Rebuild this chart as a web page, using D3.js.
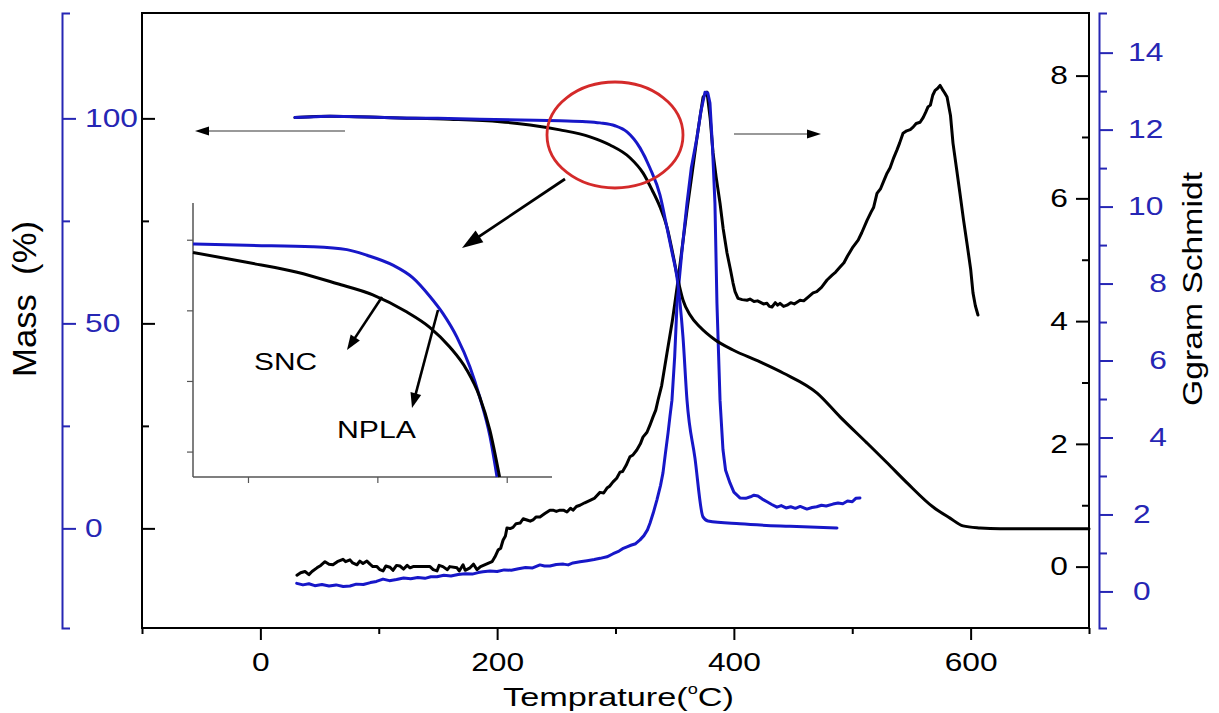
<!DOCTYPE html>
<html>
<head>
<meta charset="utf-8">
<script src="https://cdn.jsdelivr.net/npm/d3@7"></script>
<style>
  html, body { margin: 0; padding: 0; background: #fff; }
  svg { display: block; font-family: "Liberation Sans", Arial, sans-serif; }
</style>
</head>
<body>
<svg id="chart" width="1219" height="713"></svg>
<script>
// ---- TGA mass loss (%) ----
const sncMassT = [29.2, 58.8, 117.9, 160.2, 202.4, 227.8, 253.1, 278.5, 295.4, 312.2, 323.2, 330.8, 337.6, 343.5, 348.6, 352.8, 357.0, 362.9, 371.4, 384.0, 399.3, 422.1, 441.6, 470.3, 489.7, 512.5, 529.4, 546.3, 568.3, 582.6, 593.6, 608.0, 624.9, 700];
const sncMass  = [100.2, 100.5, 100.1, 99.8, 99.2, 98.4, 97.2, 95.5, 93.5, 90.4, 86.7, 82.6, 78.4, 73.5, 66.7, 60.6, 55.7, 52.1, 49.1, 46.0, 43.5, 40.6, 37.9, 33.0, 27.2, 20.8, 16.0, 11.1, 5.2, 2.5, 0.6, 0.1, -0.1, -0.1];

const nplaMassT = [29.2, 45, 58.8, 80, 117.9, 150, 185.5, 220, 253.1, 275, 286.9, 299.6, 309.7, 320.7, 329.1, 337.6, 343.5, 347.7, 352.0, 357.0, 360.4, 367.1, 373.9, 378.1, 405.1, 447.4, 487.1];
const nplaMass  = [100.2, 100.4, 100.5, 100.4, 100.1, 100.0, 99.8, 99.6, 99.4, 99.2, 98.9, 98.2, 96.7, 92.8, 87.9, 81.3, 73.3, 67.4, 61.1, 46.7, 31.3, 17.2, 2.8, 1.8, 1.1, 0.5, 0.1];

// ---- Gram-Schmidt response ----
const gsSncT = [30.9, 34, 37.7, 41, 43.6, 47.8, 51, 54.6, 58, 61.3, 65, 69.8, 72, 75.7, 78, 81.6, 84, 86.7, 90, 92.6, 95, 98.5, 101, 103.6, 106, 109.5, 112, 115, 117.9, 121, 124, 126.4, 129, 132.3, 143.3, 146, 149.2, 151, 154.2, 158, 160, 166.1, 168, 171.2, 173, 177.1, 180, 183, 186, 195.7, 198.2, 200.8, 203, 205, 207, 208.3, 211, 213.4, 216, 219.4, 222, 225.2, 228, 230.3, 233, 236.2, 240, 244.6, 247.2, 250, 253.1, 256, 259, 262, 264.1, 267, 270, 274, 278.5, 282, 286.9, 290, 292.8, 295, 297.9, 301, 303.8, 306, 309, 312.2, 314.8, 318, 321, 323.2, 326.6, 329, 331.7, 334, 335.9, 339, 343.5, 348, 352.0, 356, 360.4, 365, 368.9, 372, 374.0, 377.3, 380, 382.4, 385, 388.3, 391, 394.2, 397, 399.3, 401, 403.5, 407, 411.1, 413.6, 417, 420, 422.1, 425, 428.0, 430, 432.2, 435, 437, 439.0, 442, 444.9, 448, 451, 455.9, 459, 462, 466.9, 470, 474, 478.7, 483, 486, 489.7, 493, 496, 500.7, 505, 508, 512.5, 516, 518, 520.9, 524, 527, 529.4, 532, 535, 537.8, 540, 542.9, 546, 549, 551.4, 554, 557.3, 560, 562, 564.0, 566, 568, 570.0, 572, 574.2, 576, 578, 580.1, 583, 585.1, 588, 591.0, 594, 596.9, 600, 602.0, 604, 606.2];
const gsSnc  = [-0.14, -0.10, -0.08, -0.13, -0.08, -0.02, 0.02, 0.08, 0.04, 0.03, 0.08, 0.12, 0.08, 0.11, 0.06, 0.03, 0.09, 0.05, 0.09, 0.04, 0.00, 0.00, -0.05, -0.07, 0.01, -0.01, -0.06, 0.02, 0.01, -0.04, 0.02, -0.02, 0.00, 0.00, 0.00, -0.05, -0.07, 0.02, 0.00, -0.05, 0.00, -0.02, -0.07, 0.03, -0.06, -0.02, 0.04, -0.05, 0.00, 0.08, 0.16, 0.27, 0.30, 0.43, 0.50, 0.63, 0.62, 0.64, 0.70, 0.71, 0.78, 0.76, 0.74, 0.76, 0.81, 0.81, 0.86, 0.92, 0.92, 0.90, 0.92, 0.92, 0.89, 0.95, 0.92, 0.98, 1.00, 1.04, 1.08, 1.11, 1.21, 1.20, 1.28, 1.31, 1.38, 1.44, 1.54, 1.55, 1.65, 1.79, 1.82, 1.90, 2.00, 2.11, 2.19, 2.30, 2.44, 2.55, 2.71, 2.95, 3.48, 4.00, 4.55, 5.15, 5.81, 6.45, 7.00, 7.40, 7.65, 7.73, 7.30, 6.74, 6.35, 5.92, 5.50, 5.11, 4.85, 4.62, 4.48, 4.37, 4.35, 4.34, 4.36, 4.32, 4.33, 4.31, 4.28, 4.29, 4.24, 4.23, 4.30, 4.26, 4.29, 4.24, 4.26, 4.30, 4.28, 4.34, 4.33, 4.38, 4.46, 4.48, 4.55, 4.67, 4.75, 4.80, 4.88, 4.95, 5.06, 5.21, 5.32, 5.44, 5.64, 5.78, 5.85, 6.08, 6.16, 6.30, 6.41, 6.50, 6.66, 6.79, 6.90, 7.06, 7.10, 7.12, 7.16, 7.22, 7.24, 7.32, 7.40, 7.49, 7.52, 7.68, 7.76, 7.79, 7.84, 7.78, 7.72, 7.65, 7.35, 6.90, 6.50, 6.08, 5.65, 5.27, 4.85, 4.46, 4.25, 4.10];

const gsNplaT = [30.7, 36, 41, 46, 52, 58, 64, 70, 75.7, 81, 87, 93, 98, 103.6, 109, 115, 121, 127, 133, 139, 144, 149.2, 155, 161, 167, 173, 179, 184, 188, 194, 200, 206, 212, 218, 224, 230, 236.2, 240, 244.6, 250, 256, 260, 264.1, 270, 276, 282, 287, 292.8, 298, 303, 306, 309.7, 313, 317, 320.7, 324, 327, 329.2, 332, 335.0, 338, 340.1, 342, 344.4, 346, 347.7, 350, 352.0, 356, 360.4, 364, 368.9, 372, 375.6, 378, 379.8, 382, 384.0, 385.7, 388.3, 390.8, 393, 396.7, 400, 405.1, 410, 414, 417, 420.3, 424, 428, 432, 436.4, 440, 444, 448, 452, 456, 461.7, 466, 470, 474, 478, 483.7, 488, 492, 496, 500, 503, 506.5];
const gsNpla  = [0.21, 0.17, 0.20, 0.15, 0.18, 0.14, 0.17, 0.13, 0.14, 0.19, 0.18, 0.23, 0.26, 0.32, 0.28, 0.31, 0.35, 0.33, 0.36, 0.34, 0.38, 0.38, 0.42, 0.40, 0.44, 0.46, 0.45, 0.49, 0.51, 0.53, 0.52, 0.56, 0.55, 0.59, 0.62, 0.61, 0.69, 0.66, 0.66, 0.70, 0.71, 0.69, 0.74, 0.77, 0.80, 0.83, 0.86, 0.90, 0.98, 1.05, 1.11, 1.16, 1.20, 1.24, 1.34, 1.45, 1.60, 1.78, 2.05, 2.38, 2.75, 3.08, 3.55, 4.12, 4.55, 4.97, 6.1, 7.49, 8.8, 10.09, 11.0, 11.81, 12.45, 12.97, 12.95, 12.69, 11.5, 10.09, 7.49, 4.97, 3.68, 3.15, 2.82, 2.58, 2.43, 2.42, 2.46, 2.50, 2.48, 2.40, 2.33, 2.26, 2.19, 2.23, 2.17, 2.20, 2.16, 2.21, 2.14, 2.18, 2.20, 2.24, 2.22, 2.27, 2.30, 2.28, 2.35, 2.33, 2.42, 2.43];

// ---- magnified onset region (inset) ----
const insetT        = [261.5, 269.8, 277.6, 283.7, 289.3, 294.5, 298.1, 301.2, 303.8, 305.8, 307.4, 308.9];
const insetSncMass  = [99.1, 98.4, 97.7, 96.9, 96.1, 94.9, 93.8, 92.4, 90.8, 88.9, 86.5, 83.2];
const insetNplaT    = [261.5, 269.8, 280.0, 285.3, 288.4, 292.4, 295.5, 298.1, 300.1, 302.3, 304.3, 305.8, 307.4, 308.5];
const insetNplaMass = [99.7, 99.6, 99.5, 99.3, 98.9, 98.2, 97.3, 96.0, 94.8, 93.1, 91.0, 88.9, 86.1, 83.2];

// ---- tick values ----
const tempMajor = [0, 200, 400, 600];
const tempMinor = [-100, 100, 300, 500, 700];
const massMajor = [0, 50, 100];
const massMinor = [25, 75];
const gsSncMajor = [0, 2, 4, 6, 8];
const gsSncMinor = [1, 3, 5, 7];
const gsNplaMajor = [0, 2, 4, 6, 8, 10, 12, 14];
const gsNplaMinor = [1, 3, 5, 7, 9, 11, 13];
const insetTTicks = [270, 290, 310];
const insetMassTicks = [85, 90, 95, 100];

// ---- layout & style ----
const frame = { left: 142, right: 1089, top: 13, bottom: 628 };
const BLUE = "#1717c8";
const BLUE_AXIS = "#2626b4";
const FONT = 26;
const WIDE = 1.22;
const LW = 3;

const svg = d3.select("#chart");

const x = d3.scaleLinear().domain([-100, 700]).range([frame.left, frame.right]);
const yMass = d3.scaleLinear().domain([-24.3, 125.7]).range([frame.bottom, frame.top]);
const yGsSnc = d3.scaleLinear().domain([-1.0, 9.02]).range([frame.bottom, frame.top]);
const yGsNpla = d3.scaleLinear().domain([-0.95, 15.03]).range([frame.bottom, frame.top]);

// horizontally widen tick text (keeps its anchor point)
function widen(sel, k) {
  sel.each(function () {
    const t = d3.select(this);
    const tx = +(t.attr("x") || 0), ty = +(t.attr("y") || 0);
    t.attr("x", null).attr("y", null)
     .attr("transform", `translate(${tx},${ty}) scale(${k},1)`);
  });
}

function styleAxis(g, color, width) {
  g.selectAll("line").attr("stroke", color).attr("stroke-width", width);
  g.selectAll("path.domain").attr("stroke", color).attr("stroke-width", width);
  g.selectAll("text").attr("fill", color).style("font-size", FONT + "px")
    .style("font-family", '"Liberation Sans", Arial, sans-serif');
}

// ---- plot frame ----
svg.append("rect")
  .attr("x", frame.left).attr("y", frame.top)
  .attr("width", frame.right - frame.left).attr("height", frame.bottom - frame.top)
  .attr("fill", "none").attr("stroke", "#000").attr("stroke-width", 2);

// bottom temperature axis (ticks outward)
const gxMaj = svg.append("g").attr("transform", `translate(0,${frame.bottom})`)
  .call(d3.axisBottom(x).tickValues(tempMajor).tickSize(12).tickPadding(13).tickSizeOuter(0));
gxMaj.select(".domain").remove();
styleAxis(gxMaj, "#000", 2);
widen(gxMaj.selectAll("text"), WIDE);
const gxMin = svg.append("g").attr("transform", `translate(0,${frame.bottom})`)
  .call(d3.axisBottom(x).tickValues(tempMinor).tickSize(6).tickFormat("").tickSizeOuter(0));
gxMin.select(".domain").remove();
styleAxis(gxMin, "#000", 2);

// inner ticks on left frame (mass scale)
[[massMajor, 13], [massMinor, 7]].forEach(([vals, len]) => {
  const g = svg.append("g").attr("transform", `translate(${frame.left},0)`)
    .call(d3.axisRight(yMass).tickValues(vals).tickSize(len).tickFormat(""));
  g.select(".domain").remove();
  styleAxis(g, "#000", 2);
});

// right frame: SNC Gram-Schmidt scale, inner ticks and labels
const gRMaj = svg.append("g").attr("transform", `translate(${frame.right},0)`)
  .call(d3.axisLeft(yGsSnc).tickValues(gsSncMajor).tickSize(13).tickPadding(8));
gRMaj.select(".domain").remove();
styleAxis(gRMaj, "#000", 2);
widen(gRMaj.selectAll("text"), WIDE);
const gRMin = svg.append("g").attr("transform", `translate(${frame.right},0)`)
  .call(d3.axisLeft(yGsSnc).tickValues(gsSncMinor).tickSize(7).tickFormat(""));
gRMin.select(".domain").remove();
styleAxis(gRMin, "#000", 2);

// offset blue mass axis on the left
const blueLeftX = 62;
const gBL = svg.append("g").attr("transform", `translate(${blueLeftX},0)`)
  .call(d3.axisRight(yMass).tickValues(massMajor).tickSize(14).tickPadding(9).tickSizeOuter(8));
styleAxis(gBL, BLUE_AXIS, 2);
gBL.selectAll("text").attr("text-anchor", "start");
widen(gBL.selectAll("text"), WIDE);
const gBLm = svg.append("g").attr("transform", `translate(${blueLeftX},0)`)
  .call(d3.axisRight(yMass).tickValues(massMinor).tickSize(8).tickFormat(""));
gBLm.select(".domain").remove();
styleAxis(gBLm, BLUE_AXIS, 2);

// offset blue Gram-Schmidt axis on the right
const blueRightX = 1099;
const gBR = svg.append("g").attr("transform", `translate(${blueRightX},0)`)
  .call(d3.axisRight(yGsNpla).tickValues(gsNplaMajor).tickSize(14).tickPadding(15).tickSizeOuter(8));
styleAxis(gBR, BLUE_AXIS, 2);
// two-digit labels sit left, mid-range single digits are right-aligned, the lowest two sit inward
gBR.selectAll("text").each(function (d) {
  const t = d3.select(this);
  if (d >= 10) t.attr("x", 29).attr("text-anchor", "start");
  else if (d >= 4) t.attr("x", 68).attr("text-anchor", "end");
  else t.attr("x", 34).attr("text-anchor", "start");
});
widen(gBR.selectAll("text"), WIDE);
const gBRm = svg.append("g").attr("transform", `translate(${blueRightX},0)`)
  .call(d3.axisRight(yGsNpla).tickValues(gsNplaMinor).tickSize(8).tickFormat(""));
gBRm.select(".domain").remove();
styleAxis(gBRm, BLUE_AXIS, 2);

// ---- axis titles ----
svg.append("text")
  .attr("transform", "translate(36,299) rotate(-90)")
  .attr("text-anchor", "middle").attr("font-size", 33)
  .attr("textLength", 156).attr("lengthAdjust", "spacingAndGlyphs")
  .attr("fill", "#000").text("Mass\u00a0\u00a0(%)");

svg.append("text")
  .attr("transform", "translate(1202,289) rotate(-90)")
  .attr("text-anchor", "middle").attr("font-size", 28)
  .attr("textLength", 234).attr("lengthAdjust", "spacingAndGlyphs")
  .attr("fill", "#000").text("Ggram Schmidt");

const xt = svg.append("text")
  .attr("x", 503).attr("y", 706).attr("font-size", 26.5)
  .attr("textLength", 231).attr("lengthAdjust", "spacingAndGlyphs")
  .attr("fill", "#000");
xt.append("tspan").text("Temprature(");
xt.append("tspan").attr("font-size", 14).attr("dy", -12).text("o");
xt.append("tspan").attr("dy", 12).text("C)");

// ---- data lines ----
const plot = svg.append("g");
function drawLine(ts, vs, yScale, color, curve) {
  const pts = ts.map((t, i) => [t, vs[i]]);
  plot.append("path")
    .datum(pts)
    .attr("fill", "none").attr("stroke", color).attr("stroke-width", LW)
    .attr("stroke-linejoin", "round").attr("stroke-linecap", "round")
    .attr("d", d3.line().curve(curve).x(d => x(d[0])).y(d => yScale(d[1])));
}
drawLine(gsSncT, gsSnc, yGsSnc, "#000", d3.curveLinear);
drawLine(gsNplaT, gsNpla, yGsNpla, BLUE, d3.curveLinear);
drawLine(sncMassT, sncMass, yMass, "#000", d3.curveMonotoneX);
drawLine(nplaMassT, nplaMass, yMass, BLUE, d3.curveMonotoneX);

// ---- annotations ----
function arrow(x1, y1, x2, y2, o) {
  const dx = x2 - x1, dy = y2 - y1, L = Math.hypot(dx, dy);
  const ux = dx / L, uy = dy / L;
  const bx = x2 - ux * o.head, by = y2 - uy * o.head;
  svg.append("line").attr("x1", x1).attr("y1", y1).attr("x2", bx + ux * 2).attr("y2", by + uy * 2)
    .attr("stroke", o.line).attr("stroke-width", o.width);
  svg.append("path")
    .attr("d", `M${x2},${y2}L${bx - uy * o.half},${by + ux * o.half}L${bx + uy * o.half},${by - ux * o.half}Z`)
    .attr("fill", "#000");
}
arrow(345, 131, 195, 131, { line: "#777", width: 1.3, head: 14, half: 4.5 });
arrow(734, 134, 821, 134, { line: "#777", width: 1.3, head: 14, half: 4.5 });
arrow(565, 179, 462, 248, { line: "#000", width: 2.8, head: 21, half: 7 });

svg.append("ellipse")
  .attr("cx", 615).attr("cy", 135).attr("rx", 68).attr("ry", 53)
  .attr("fill", "none").attr("stroke", "#d42a2a").attr("stroke-width", 2.8);

// ---- inset ----
const inset = { left: 193, right: 552, top: 203, bottom: 477 };
const xi = d3.scaleLinear().domain([261.5, 317]).range([inset.left, inset.right]);
const yi = d3.scaleLinear().domain([83.2, 102.6]).range([inset.bottom, inset.top]);

const gi = svg.append("g");
gi.append("line").attr("x1", inset.left).attr("x2", inset.left).attr("y1", inset.top).attr("y2", inset.bottom)
  .attr("stroke", "#555").attr("stroke-width", 1.5);
gi.append("line").attr("x1", inset.left).attr("x2", inset.right).attr("y1", inset.bottom).attr("y2", inset.bottom)
  .attr("stroke", "#555").attr("stroke-width", 1.5);
const giy = gi.append("g").attr("transform", `translate(${inset.left},0)`)
  .call(d3.axisLeft(yi).tickValues(insetMassTicks).tickSize(6).tickFormat(""));
giy.select(".domain").remove();
giy.selectAll("line").attr("stroke", "#555").attr("stroke-width", 1.2);
const gix = gi.append("g").attr("transform", `translate(0,${inset.bottom})`)
  .call(d3.axisBottom(xi).tickValues(insetTTicks).tickSize(6).tickFormat(""));
gix.select(".domain").remove();
gix.selectAll("line").attr("stroke", "#555").attr("stroke-width", 1.2);

const iline = d3.line().curve(d3.curveMonotoneX).x(d => xi(d[0])).y(d => yi(d[1]));
gi.append("path").datum(insetNplaT.map((t, i) => [t, insetNplaMass[i]]))
  .attr("fill", "none").attr("stroke", BLUE).attr("stroke-width", LW).attr("d", iline);
gi.append("path").datum(insetT.map((t, i) => [t, insetSncMass[i]]))
  .attr("fill", "none").attr("stroke", "#000").attr("stroke-width", LW).attr("d", iline);

arrow(382, 297, 347, 350, { line: "#000", width: 2.6, head: 15, half: 5.5 });
arrow(438, 310, 412, 408, { line: "#000", width: 2.6, head: 15, half: 5.5 });

gi.append("text").attr("x", 254).attr("y", 370).attr("font-size", 24)
  .attr("textLength", 63).attr("lengthAdjust", "spacingAndGlyphs").text("SNC");
gi.append("text").attr("x", 337).attr("y", 438).attr("font-size", 24)
  .attr("textLength", 79).attr("lengthAdjust", "spacingAndGlyphs").text("NPLA");
</script>
</body>
</html>
